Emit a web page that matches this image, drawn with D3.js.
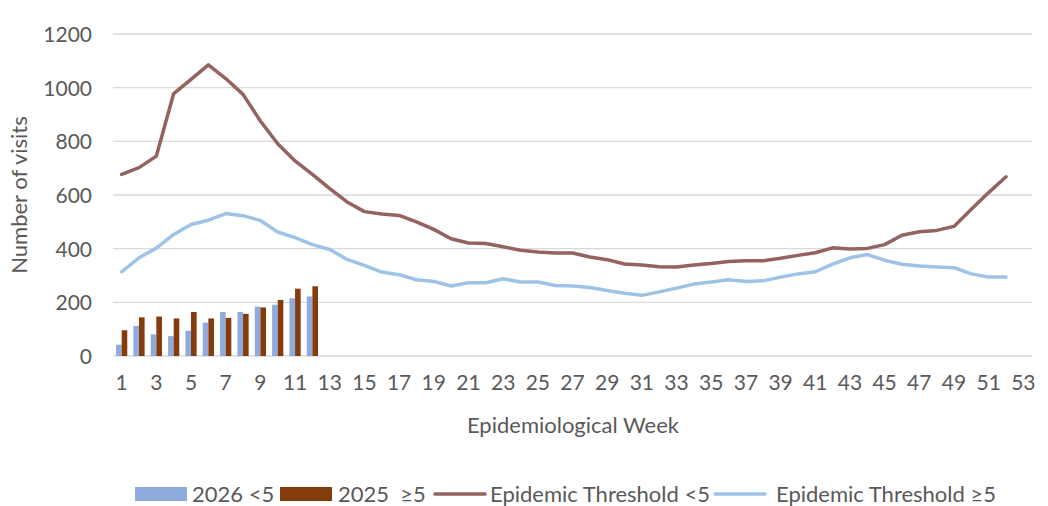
<!DOCTYPE html>
<html><head><meta charset="utf-8">
<script src="https://cdn.jsdelivr.net/npm/d3@7"></script>
<style>
body{margin:0;background:#fff;}
text{font-family:Lato,"Open Sans",sans-serif;fill:#595959;white-space:pre;}
</style></head>
<body><svg id="c" width="1048" height="506"></svg>
<script>
const weeks = d3.range(1, 54);
const xTickLabels = d3.range(1, 54, 2);
const yTicks = [0, 200, 400, 600, 800, 1000, 1200];
const barWeeks = d3.range(1, 13);
const bars2026u5 = [42, 112, 81, 74, 94, 124, 164, 164, 184, 191, 215, 222];
const bars2025o5 = [96, 144, 147, 140, 164, 140, 142, 157, 181, 209, 251, 260];
const lineWeeks = d3.range(1, 53);
const thresholdU5 = [677, 702, 745, 978, 1031, 1085, 1034, 975, 876, 791, 727, 677, 624, 574, 538, 529, 524, 500, 472, 437,
  421, 419, 407, 394, 388, 384, 384, 369, 359, 343, 339, 333, 332, 339, 345, 352, 355, 355, 364, 375,
  385, 403, 399, 401, 415, 450, 463, 468, 483, 547, 609, 668];
const thresholdO5 = [314, 366, 402, 453, 490, 506, 531, 523, 505, 462, 441, 415, 397, 360, 338, 313, 303, 284, 278, 261,
  273, 273, 288, 276, 276, 263, 261, 255, 244, 234, 226, 239, 253, 268, 276, 284, 278, 280, 294, 306,
  314, 342, 366, 378, 357, 342, 335, 332, 329, 306, 294, 294];
const seriesNames = ["2026 <5", "2025  \u22655", "Epidemic Threshold <5", "Epidemic Threshold \u22655"];
const colors = ["#8FAADC", "#843C0C", "#94625F", "#9DC3E6"];

const svg = d3.select("#c");
const L = 113, R = 1032, T = 34, B = 356;
const x = d3.scaleBand().domain(weeks).range([L, R]).padding(0);
const bw = x.bandwidth();
const xs = d3.scaleBand().domain([0, 1]).range([bw / 2 - 5.6, bw / 2 + 5.6]).padding(0);
const y = d3.scaleLinear().domain([0, 1200]).range([B, T]);

// gridlines
svg.append("g").selectAll("line").data(yTicks).join("line")
  .attr("x1", L).attr("x2", R).attr("y1", d => y(d)).attr("y2", d => y(d))
  .attr("stroke", "#d9d9d9").attr("stroke-width", 1.3);

// y axis labels
const yAxis = d3.axisLeft(y).tickValues(yTicks).tickFormat(d3.format("d")).tickSize(0).tickPadding(0);
const gy = svg.append("g").attr("transform", `translate(92,0)`).call(yAxis);
gy.select(".domain").remove();
gy.selectAll("text").style("font-size", "21px").style("font-family", "Lato").attr("fill", "#595959").attr("dy", "0.35em");

// x axis labels
const xAxis = d3.axisBottom(x).tickValues(xTickLabels).tickSize(0).tickPadding(0);
const gx = svg.append("g").attr("transform", `translate(0,376)`).call(xAxis);
gx.select(".domain").remove();
gx.selectAll("text").style("font-size", "21px").style("font-family", "Lato").attr("fill", "#595959").attr("dy", "0.68em");

// bars
const bg = svg.append("g");
bg.selectAll("rect.a").data(barWeeks).join("rect").attr("class", "a")
  .attr("x", d => x(d) + xs(0)).attr("width", xs.bandwidth())
  .attr("y", (d, i) => y(bars2026u5[i])).attr("height", (d, i) => y(0) - y(bars2026u5[i]))
  .attr("fill", colors[0]);
bg.selectAll("rect.b").data(barWeeks).join("rect").attr("class", "b")
  .attr("x", d => x(d) + xs(1)).attr("width", xs.bandwidth())
  .attr("y", (d, i) => y(bars2025o5[i])).attr("height", (d, i) => y(0) - y(bars2025o5[i]))
  .attr("fill", colors[1]);

// lines
const line = d3.line().x(d => x(d[0]) + bw / 2).y(d => y(d[1]));
svg.append("path").datum(lineWeeks.map((w, i) => [w, thresholdU5[i]]))
  .attr("d", line).attr("fill", "none").attr("stroke", colors[2]).attr("stroke-width", 3.5)
  .attr("stroke-linejoin", "round").attr("stroke-linecap", "round");
svg.append("path").datum(lineWeeks.map((w, i) => [w, thresholdO5[i]]))
  .attr("d", line).attr("fill", "none").attr("stroke", colors[3]).attr("stroke-width", 3.5)
  .attr("stroke-linejoin", "round").attr("stroke-linecap", "round");

// axis titles
svg.append("text").attr("x", 573).attr("y", 433).attr("text-anchor", "middle")
  .style("font-size", "22px").text("Epidemiological Week");
svg.append("text").attr("transform", "translate(27,195) rotate(-90)").attr("text-anchor", "middle")
  .style("font-size", "22px").text("Number of visits");

// legend
const lg = svg.append("g");
const items = [
  {type: "rect", x: 135, tx: 192},
  {type: "rect", x: 280, tx: 338},
  {type: "line", x: 433, tx: 490},
  {type: "line", x: 713, tx: 776}
];
items.forEach((it, i) => {
  if (it.type === "rect") {
    lg.append("rect").attr("x", it.x).attr("y", 487).attr("width", 52).attr("height", 14).attr("fill", colors[i]);
  } else {
    lg.append("line").attr("x1", it.x + 2).attr("x2", it.x + 52).attr("y1", 494).attr("y2", 494)
      .attr("stroke", colors[i]).attr("stroke-width", 3.5).attr("stroke-linecap", "round");
  }
  lg.append("text").attr("x", it.tx).attr("y", 502).style("font-size", "22px").text(seriesNames[i]);
});
</script></body></html>
